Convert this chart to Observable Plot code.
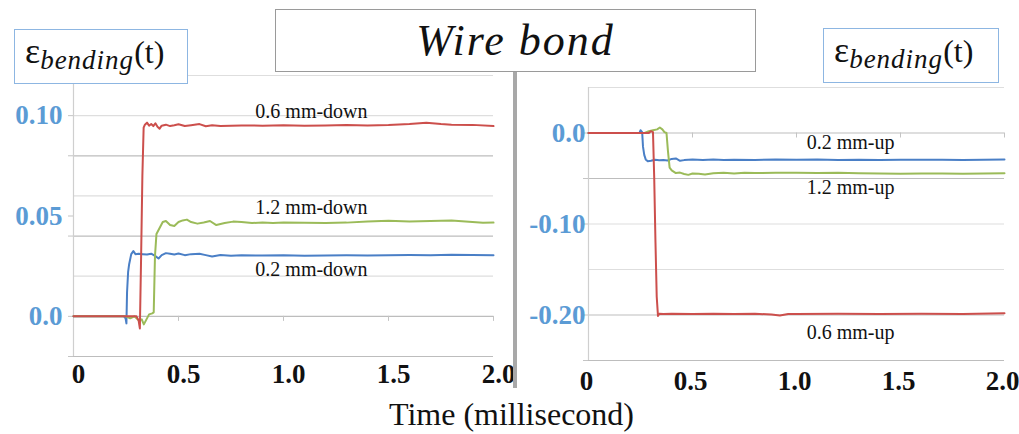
<!DOCTYPE html>
<html>
<head>
<meta charset="utf-8">
<script src="https://cdn.jsdelivr.net/npm/d3@7"></script>
<script src="https://cdn.jsdelivr.net/npm/@observablehq/plot@0.6"></script>
<style>
  html, body { margin: 0; padding: 0; background: #fff; }
  #wrap { position: relative; width: 1019px; height: 434px; overflow: hidden; background: #fff; }
  .panel { position: absolute; top: 0; }
  .box { position: absolute; background: #fff; box-sizing: border-box; white-space: nowrap; }
  .eps { border: 1.5px solid #8db6e2; font-family: "Liberation Serif", serif; color: #111; }
  .eps .e { font-size: 36px; }
  .eps .sub { font-family: "Liberation Serif", serif; font-style: italic; font-size: 27px; letter-spacing: 1px; position: relative; top: 6px; }
  .eps .t { font-size: 32px; }
  #title { left: 275px; top: 9px; width: 481px; height: 63px; border: 1.5px solid #9a9a9a;
           font-family: "Liberation Serif", serif; font-style: italic; font-size: 44px; letter-spacing: 2px; text-align: center; line-height: 62px; color: #111; }
  #sep { position: absolute; left: 513px; top: 72px; width: 4px; height: 316px; background: #a8a8a8; }
  #xtitle { position: absolute; left: 0; width: 1019px; top: 396px; text-align: center; font-family: "Liberation Serif", serif; font-size: 32px; color: #111; padding-left: 2px; }
</style>
</head>
<body>
<div id="wrap">
  <div id="left" class="panel" style="left:0px"></div>
  <div id="right" class="panel" style="left:520px"></div>
  <div id="sep"></div>
  <div id="title" class="box">Wire bond</div>
  <div class="box eps" style="left:14px; top:29px; width:174px; height:55px; padding:0 0 0 10px;"><span class="e">ε</span><span class="sub">bending</span><span class="t">(t)</span></div>
  <div class="box eps" style="left:823px; top:28px; width:176px; height:55px; padding:0 0 0 10px;"><span class="e">ε</span><span class="sub">bending</span><span class="t">(t)</span></div>
  <div id="xtitle">Time (millisecond)</div>
</div>
<script>
// ---------- tick labels ----------
const xTicks = [0, 0.5, 1.0, 1.5, 2.0];
const xTickLabels = ["0", "0.5", "1.0", "1.5", "2.0"];
const leftYTicks = [0, 0.05, 0.10];
const leftYLabels = ["0.0", "0.05", "0.10"];
const rightYTicks = [0, -0.10, -0.20];
const rightYLabels = ["0.0", "-0.10", "-0.20"];
const leftGridMajor = [-0.02, 0, 0.04, 0.08];
const leftGridMinor = [0.02, 0.06, 0.10, 0.12];
const rightGridMajor = [-0.25, -0.20, -0.05, 0];
const rightGridMinor = [-0.15, -0.10, 0.05];

// ---------- left panel: downward bending ----------
const down02T = [0,0.24,0.248,0.252,0.255,0.26,0.265,0.275,0.285,0.295,0.31,0.33,0.35,0.37,0.39,0.405,0.42,0.44,0.46,0.48,0.50,0.53,0.56,0.60,0.63,0.66,0.70,0.75,0.80,0.90,1.0,1.1,1.2,1.3,1.4,1.5,1.6,1.7,1.8,1.9,2.0];
const down02V = [0,0,-0.001,-0.0035,0.012,0.022,0.026,0.031,0.0325,0.031,0.0312,0.031,0.0308,0.0312,0.030,0.0288,0.0305,0.0315,0.0312,0.0308,0.0313,0.0305,0.031,0.0312,0.0305,0.0298,0.0306,0.0302,0.0305,0.0303,0.0304,0.0302,0.0303,0.0304,0.0303,0.0305,0.0306,0.0305,0.0307,0.0306,0.0304];

const down06T = [0,0.30,0.31,0.316,0.322,0.328,0.334,0.34,0.35,0.36,0.37,0.38,0.39,0.40,0.41,0.42,0.44,0.46,0.48,0.50,0.53,0.56,0.60,0.63,0.66,0.70,0.80,0.90,1.0,1.1,1.2,1.3,1.4,1.5,1.6,1.68,1.75,1.8,1.9,2.0];
const down06V = [0,0,-0.002,-0.006,0.03,0.07,0.094,0.0955,0.0965,0.095,0.0958,0.0948,0.0962,0.0945,0.0935,0.095,0.0955,0.0948,0.0952,0.0957,0.0948,0.0952,0.0958,0.0947,0.0952,0.0949,0.0951,0.095,0.0952,0.095,0.0951,0.0953,0.0951,0.0953,0.0958,0.0964,0.0958,0.0955,0.0954,0.0948];

const down12T = [0,0.25,0.27,0.29,0.31,0.325,0.335,0.345,0.36,0.375,0.382,0.388,0.395,0.41,0.425,0.44,0.46,0.48,0.50,0.52,0.54,0.56,0.59,0.62,0.65,0.68,0.72,0.76,0.80,0.85,0.90,0.95,1.0,1.1,1.2,1.3,1.4,1.5,1.6,1.7,1.8,1.9,1.95,2.0];
const down12V = [0,0,-0.001,0,-0.002,-0.0015,-0.004,-0.002,0.001,0.0015,0.002,0.03,0.041,0.044,0.047,0.0475,0.0455,0.045,0.047,0.0478,0.0482,0.047,0.0462,0.0468,0.0475,0.0455,0.0465,0.0472,0.047,0.0465,0.0468,0.0465,0.0468,0.0466,0.0465,0.0467,0.0472,0.0476,0.0472,0.0475,0.0478,0.047,0.0466,0.0467];

// ---------- right panel: upward bending ----------
const up02T = [0,0.245,0.25,0.258,0.262,0.268,0.275,0.285,0.30,0.32,0.34,0.36,0.38,0.40,0.42,0.44,0.46,0.50,0.55,0.60,0.65,0.70,0.80,0.90,1.0,1.1,1.2,1.3,1.4,1.5,1.6,1.7,1.8,1.9,2.0];
const up02V = [0,0,0.003,0.001,-0.015,-0.024,-0.029,-0.031,-0.0305,-0.0295,-0.030,-0.0298,-0.0302,-0.0285,-0.028,-0.0305,-0.0298,-0.0292,-0.0298,-0.0292,-0.0296,-0.0293,-0.0296,-0.0292,-0.0295,-0.0292,-0.0296,-0.0293,-0.0297,-0.0293,-0.0295,-0.0293,-0.0296,-0.0294,-0.0292];

const up06T = [0,0.29,0.30,0.31,0.316,0.322,0.328,0.334,0.34,0.36,0.40,0.50,0.60,0.70,0.80,0.88,0.92,0.96,1.0,1.2,1.4,1.6,1.8,2.0];
const up06V = [0,0,0.002,0.001,-0.05,-0.12,-0.18,-0.201,-0.1985,-0.199,-0.1985,-0.1988,-0.1985,-0.199,-0.1985,-0.1995,-0.2005,-0.199,-0.1988,-0.1985,-0.1988,-0.1985,-0.1988,-0.198];

const up12T = [0,0.27,0.29,0.31,0.33,0.343,0.355,0.365,0.375,0.382,0.39,0.40,0.42,0.44,0.46,0.48,0.50,0.53,0.56,0.60,0.65,0.70,0.75,0.80,0.90,1.0,1.1,1.2,1.3,1.4,1.5,1.6,1.7,1.8,1.9,2.0];
const up12V = [0,0,0.002,0.003,0.004,0.006,0.004,0.001,0,-0.02,-0.038,-0.041,-0.044,-0.0435,-0.045,-0.046,-0.0445,-0.0448,-0.0455,-0.0442,-0.0438,-0.0445,-0.0438,-0.044,-0.0438,-0.0437,-0.044,-0.0438,-0.0442,-0.0445,-0.0448,-0.0446,-0.0444,-0.0447,-0.0445,-0.0443];

// ---------- series labels ----------
const leftLabels = ["0.6 mm-down", "1.2 mm-down", "0.2 mm-down"];
const leftLabelX = [1.133, 1.133, 1.133];
const leftLabelY = [0.102, 0.054, 0.0235];
const rightLabels = ["0.2 mm-up", "1.2 mm-up", "0.6 mm-up"];
const rightLabelX = [1.26, 1.26, 1.26];
const rightLabelY = [-0.0104, -0.060, -0.219];

const colors = { red: "#cc4f4c", blue: "#4a7fc6", green: "#9bbb59" };
const tickDepthLeft = 0.0025;   // short tick marks under the zero line
const tickDepthRight = 0.0055;

function rows(T, V, s) { return T.map((t, i) => ({ t, v: V[i], s })); }

const leftData = [...rows(down02T, down02V, "0.2"), ...rows(down12T, down12V, "1.2"), ...rows(down06T, down06V, "0.6")];
const rightData = [...rows(up02T, up02V, "0.2"), ...rows(up12T, up12V, "1.2"), ...rows(up06T, up06V, "0.6")];
const colorOf = { "0.2": colors.blue, "0.6": colors.red, "1.2": colors.green };

function panel({ width, marginLeft, marginRight, marginTop, marginBottom, yDomain, gridMajor, gridMinor,
                 yTicks, yLabels, yPad, xDx, xPad, data, labels, lx, ly, tickDepth }) {
  const lab = labels.map((l, i) => ({ l, x: lx[i], y: ly[i] }));
  return Plot.plot({
    width, height: 434, marginLeft, marginRight, marginTop, marginBottom,
    x: { domain: [0, 2] },
    y: { domain: yDomain },
    style: { fontFamily: "Liberation Serif, serif", background: "transparent", overflow: "visible" },
    marks: [
      Plot.ruleY(gridMinor, { stroke: "#dedede", strokeWidth: 1.2 }),
      Plot.ruleY(gridMajor, { stroke: "#bdbdbd", strokeWidth: 1.2 }),
      Plot.ruleX([0], { stroke: "#cfcfcf", strokeWidth: 1.2 }),
      Plot.ruleX(xTicks.slice(1), { y1: 0, y2: -tickDepth, stroke: "#c4c4c4" }),
      Plot.axisY({ ticks: gridMajor.concat(yTicks.filter(d => !gridMajor.includes(d))), tickSize: 5, stroke: "#c4c4c4", text: null }),
      Plot.axisY({ ticks: yTicks, tickFormat: (d) => yLabels[yTicks.indexOf(d)], tickSize: 0, tickPadding: yPad,
                   fill: "#5b9bd5", fontSize: 27, fontWeight: "bold", fontFamily: "Liberation Serif" }),
      Plot.axisX({ ticks: xTicks, tickFormat: (d) => xTickLabels[xTicks.indexOf(d)], tickSize: 0, tickPadding: xPad,
                   dx: xDx, fill: "#111", fontSize: 27, fontWeight: "bold", fontFamily: "Liberation Serif" }),
      Plot.line(data, { x: "t", y: "v", z: "s", stroke: d => colorOf[d.s], strokeWidth: 2 }),
      Plot.text(lab, { x: "x", y: "y", text: "l", fontSize: 20, fill: "#111", fontFamily: "Liberation Serif" })
    ]
  });
}

document.getElementById("left").append(panel({
  width: 510, marginLeft: 73, marginRight: 17, marginTop: 75, marginBottom: 78,
  yDomain: [-0.02, 0.12], gridMajor: leftGridMajor, gridMinor: leftGridMinor,
  yTicks: leftYTicks, yLabels: leftYLabels, yPad: 11, xDx: 5, xPad: 7,
  data: leftData, labels: leftLabels, lx: leftLabelX, ly: leftLabelY, tickDepth: tickDepthLeft
}));

document.getElementById("right").append(panel({
  width: 499, marginLeft: 68, marginRight: 15, marginTop: 87, marginBottom: 74,
  yDomain: [-0.25, 0.05], gridMajor: rightGridMajor, gridMinor: rightGridMinor,
  yTicks: rightYTicks, yLabels: rightYLabels, yPad: 3, xDx: -2, xPad: 10,
  data: rightData, labels: rightLabels, lx: rightLabelX, ly: rightLabelY, tickDepth: tickDepthRight
}));
</script>
</body>
</html>
